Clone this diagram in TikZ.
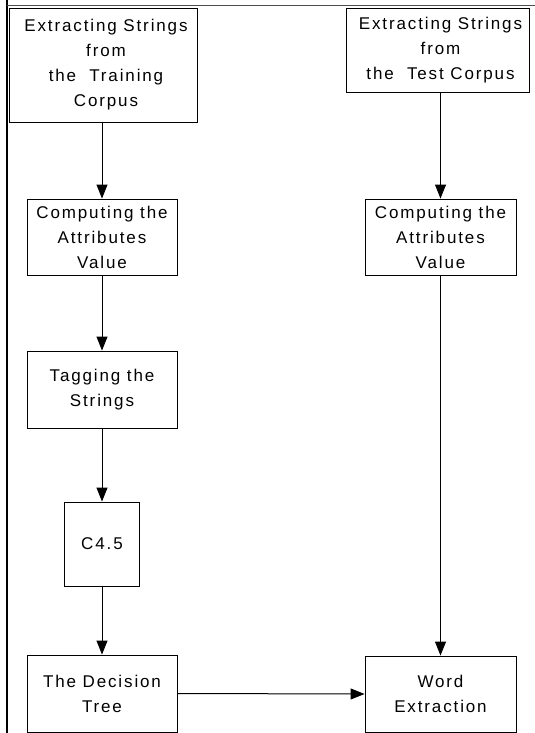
\documentclass[tikz,border=0pt]{standalone}
\usepackage{fontspec}
\setmainfont{Liberation Sans}
\newfontfamily\boxfont[LetterSpace=11]{Liberation Sans}
\usetikzlibrary{arrows.meta}
\tikzset{
  stepbox/.style={draw=black, line width=0.9pt, inner sep=0pt, align=center,
    font=\boxfont\fontsize{17}{25}\selectfont},
  flow/.style={draw=black, line width=1pt, -{Triangle[length=14pt,width=11pt]}}
}
\begin{document}
\begin{tikzpicture}[x=1pt,y=-1pt]
\useasboundingbox (0,0) rectangle (535,733);
% page frame lines
\draw[line width=2pt] (7,0) -- (7,733);
\draw[line width=0.8pt, black!70] (7,5) -- (535,5);
% left column
\node[stepbox, minimum width=188pt, minimum height=114pt] (a1) at (103,65)
  {\hspace*{6pt}Extracting Strings\\\hspace*{6pt}from\\\hspace*{6pt}the\ \ Training\\\hspace*{6pt}Corpus};
\node[stepbox, minimum width=150pt, minimum height=76pt] (a2) at (102,237)
  {Computing the\\Attributes\\Value};
\node[stepbox, minimum width=150pt, minimum height=77pt] (a3) at (102,389.5)
  {Tagging the\\Strings};
\node[stepbox, minimum width=75pt, minimum height=84pt] (a4) at (102,544)
  {C4.5};
\node[stepbox, minimum width=150pt, minimum height=77pt] (a5) at (102,693.5)
  {The Decision\\Tree};
% right column
\node[stepbox, minimum width=183pt, minimum height=84pt] (b1) at (437.5,50)
  {\hspace*{6pt}Extracting Strings\\\hspace*{6pt}from\\\hspace*{6pt}the\ \ Test Corpus};
\node[stepbox, minimum width=151pt, minimum height=76pt] (b2) at (440.5,237)
  {Computing the\\Attributes\\Value};
\node[stepbox, minimum width=151pt, minimum height=76pt] (b3) at (440.5,694)
  {Word\\Extraction};
% connectors
\draw[flow] (a1.south -| a2.north) -- (a2.north);
\draw[flow] (a2) -- (a3);
\draw[flow] (a3) -- (a4);
\draw[flow] (a4) -- (a5);
\draw[flow] (b2.north |- b1.south) -- (b2.north);
\draw[flow] (b2) -- (b3);
\draw[flow] (a5.east) -- (b3.west);
\end{tikzpicture}
\end{document}
